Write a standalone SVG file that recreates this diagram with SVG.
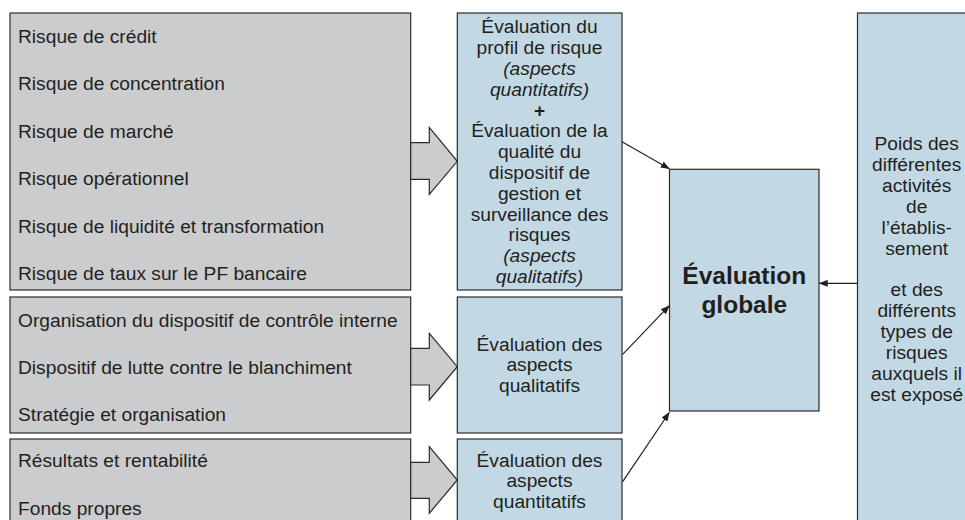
<svg xmlns="http://www.w3.org/2000/svg" width="965" height="520" viewBox="0 0 965 520">
<style>
.g{fill:#cbccce;stroke:#2b2b2b;stroke-width:1.2}
.b{fill:#c2d9e5;stroke:#2b2b2b;stroke-width:1.2}
.t{font-family:"Liberation Sans",Arial,sans-serif;font-size:19.2px;fill:#231f20}
.c{text-anchor:middle}
.i{font-style:italic}
.bo{font-weight:bold}
.ln{stroke:#231f20;stroke-width:1.2;fill:none}
</style>
<defs>
<marker id="ah" markerWidth="9" markerHeight="7" refX="8.5" refY="3.5" orient="auto" markerUnits="userSpaceOnUse">
<path d="M0,0 L9,3.5 L0,7 z" fill="#231f20"/>
</marker>
</defs>
<rect width="965" height="520" fill="#fff"/>

<g id="risques">
<rect class="g" x="10" y="13" width="400.7" height="277"/>
<text class="t" x="18" y="42.7">Risque de crédit</text>
<text class="t" x="18" y="90.2">Risque de concentration</text>
<text class="t" x="18" y="137.7">Risque de marché</text>
<text class="t" x="18" y="185.2">Risque opérationnel</text>
<text class="t" x="18" y="232.7">Risque de liquidité et transformation</text>
<text class="t" x="18" y="280.2">Risque de taux sur le PF bancaire</text>
</g>

<g id="organisation">
<rect class="g" x="10" y="297" width="400.7" height="136"/>
<text class="t" x="18" y="326.7">Organisation du dispositif de contrôle interne</text>
<text class="t" x="18" y="374">Dispositif de lutte contre le blanchiment</text>
<text class="t" x="18" y="421">Stratégie et organisation</text>
</g>

<g id="resultats">
<rect class="g" x="10" y="439" width="400.7" height="100"/>
<text class="t" x="18" y="467.3">Résultats et rentabilité</text>
<text class="t" x="18" y="515">Fonds propres</text>
</g>

<g id="fleche1">
<polygon class="g" points="410.7,142.7 429.3,142.7 429.3,127.3 457.3,161.3 429.3,194.3 429.3,179.3 410.7,179.3"/>
</g>
<g id="fleche2">
<polygon class="g" points="410.7,348.3 429.3,348.3 429.3,333.3 457.3,366.7 429.3,400 429.3,385 410.7,385"/>
</g>
<g id="fleche3">
<polygon class="g" points="410.7,462.3 429.3,462.3 429.3,446.7 457.3,480 429.3,513.3 429.3,498.3 410.7,498.3"/>
</g>

<g id="profil">
<rect class="b" x="457.3" y="13" width="164.7" height="277"/>
<text class="t c" x="539.5" y="33.3">Évaluation du</text>
<text class="t c" x="539.5" y="54.1">profil de risque</text>
<text class="t c i" x="539.5" y="74.9">(aspects</text>
<text class="t c i" x="539.5" y="95.7">quantitatifs)</text>
<text class="t c bo" x="539.5" y="116.5">+</text>
<text class="t c" x="539.5" y="137.3">Évaluation de la</text>
<text class="t c" x="539.5" y="158.1">qualité du</text>
<text class="t c" x="539.5" y="178.9">dispositif de</text>
<text class="t c" x="539.5" y="199.7">gestion et</text>
<text class="t c" x="539.5" y="220.5">surveillance des</text>
<text class="t c" x="539.5" y="241.3">risques</text>
<text class="t c i" x="539.5" y="262.1">(aspects</text>
<text class="t c i" x="539.5" y="282.9">qualitatifs)</text>
</g>

<g id="qualitatifs">
<rect class="b" x="457.3" y="297" width="164.7" height="136"/>
<text class="t c" x="539.5" y="350.7">Évaluation des</text>
<text class="t c" x="539.5" y="371.4">aspects</text>
<text class="t c" x="539.5" y="392.1">qualitatifs</text>
</g>

<g id="quantitatifs">
<rect class="b" x="457.3" y="439" width="164.7" height="100"/>
<text class="t c" x="539.5" y="466.7">Évaluation des</text>
<text class="t c" x="539.5" y="487.4">aspects</text>
<text class="t c" x="539.5" y="508.1">quantitatifs</text>
</g>

<g id="globale">
<rect class="b" x="669.5" y="169.3" width="149.5" height="241.7"/>
<text class="t c bo" x="744.3" y="284.3" style="font-size:24.5px">Évaluation</text>
<text class="t c bo" x="744.3" y="312.7" style="font-size:24.5px">globale</text>
</g>

<g id="poids">
<rect class="b" x="857.5" y="13" width="120" height="530"/>
<text class="t c" x="916.7" y="150">Poids des</text>
<text class="t c" x="916.7" y="170.9">différentes</text>
<text class="t c" x="916.7" y="191.8">activités</text>
<text class="t c" x="916.7" y="212.7">de</text>
<text class="t c" x="916.7" y="233.6">l’établis-</text>
<text class="t c" x="916.7" y="254.5">sement</text>
<text class="t c" x="916.7" y="296.3">et des</text>
<text class="t c" x="916.7" y="317.2">différents</text>
<text class="t c" x="916.7" y="338.1">types de</text>
<text class="t c" x="916.7" y="359">risques</text>
<text class="t c" x="916.7" y="379.9">auxquels il</text>
<text class="t c" x="916.7" y="400.8">est exposé</text>
</g>

<g id="connecteurs">
<line class="ln" x1="622" y1="141.7" x2="669.3" y2="168.8" marker-end="url(#ah)"/>
<line class="ln" x1="622.7" y1="354.3" x2="669.3" y2="305.7" marker-end="url(#ah)"/>
<line class="ln" x1="622.7" y1="481.7" x2="669.3" y2="412.5" marker-end="url(#ah)"/>
<line class="ln" x1="857.5" y1="283.3" x2="819.2" y2="283.3" marker-end="url(#ah)"/>
</g>
</svg>
